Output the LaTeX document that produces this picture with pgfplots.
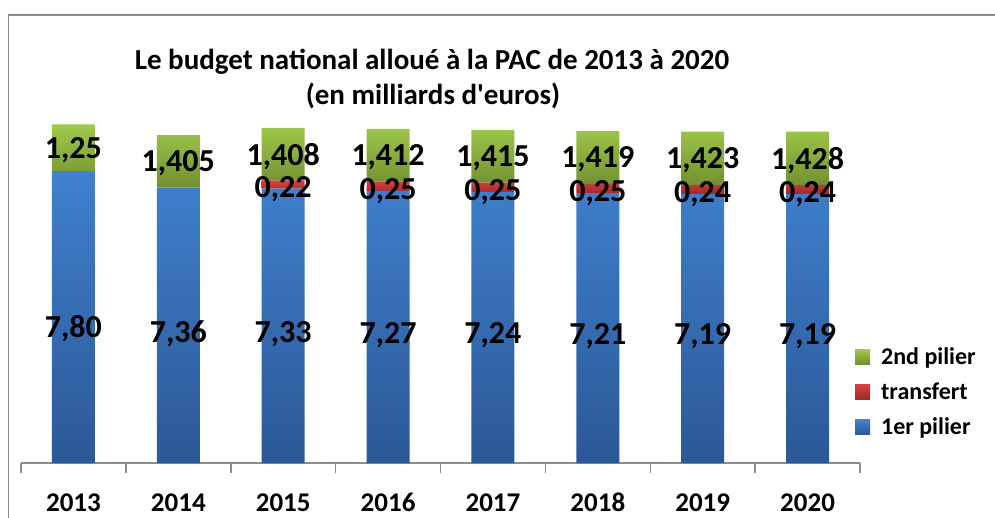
\documentclass[border=0pt]{standalone}
\usepackage{fontspec}
\setmainfont{Carlito}[Ligatures=TeXOff]
\usepackage{pgfplots}
\pgfplotsset{compat=1.18}
\definecolor{bluetop}{RGB}{64,128,206}
\definecolor{bluebot}{RGB}{43,88,150}
\definecolor{redtop}{RGB}{212,66,62}
\definecolor{redbot}{RGB}{158,40,40}
\definecolor{greentop}{RGB}{160,202,76}
\definecolor{greenbot}{RGB}{112,142,48}
\definecolor{framegray}{RGB}{140,140,140}
\begin{document}
\begin{tikzpicture}
\useasboundingbox (0pt,0pt) rectangle (995pt,-518pt);
\begin{scope}
\clip (0pt,0pt) rectangle (995pt,-518pt);
\draw[framegray, line width=1.5pt] (8.5pt,-560pt) -- (8.5pt,-15pt) -- (1050pt,-15pt);
\end{scope}
\node[anchor=base, font=\bfseries\fontsize{29}{29}\selectfont] at (432pt,-70pt) {Le budget national alloué à la PAC de 2013 à 2020};
\node[anchor=base, font=\bfseries\fontsize{29}{29}\selectfont] at (433pt,-105pt) {(en milliards d'euros)};
\begin{axis}[
 at={(21pt,-463pt)}, anchor=south west,
 scale only axis, width=839pt, height=348pt,
 ymin=0, ymax=9.3, xmin=-0.5, xmax=7.5,
 ybar stacked, bar width=0.41,
 axis y line=none, axis x line*=bottom,
 x axis line style={-, framegray, line width=1.5pt},
 xtick={0,...,7}, xticklabels={2013,2014,2015,2016,2017,2018,2019,2020},
 xtick style={draw=none},
 major tick length=0pt,
 extra x ticks={-0.5,0.5,...,7.5}, extra x tick labels={},
 extra x tick style={major tick length=10pt, tick align=outside, xtick style={draw=framegray, line width=1.5pt}},
 xticklabel style={font=\bfseries\fontsize{27}{27}\selectfont, text height=17pt, text depth=0pt, inner sep=0pt, anchor=north, yshift=-31pt},
 legend style={at={(axis description cs:0.994,0.338)}, anchor=north west, draw=none, fill=none,
   font=\bfseries\fontsize{24}{24}\selectfont, row sep=13pt, inner sep=0pt,
   /tikz/every odd column/.append style={column sep=9pt}},
 legend cell align=left,
 legend image code/.code={\path[#1, draw=none] (0pt,-7.5pt) rectangle (15pt,7.5pt);},
 reverse legend,
 clip=false,
]
\addplot[draw=none, top color=bluetop, bottom color=bluebot] coordinates {(0,7.80) (1,7.36) (2,7.33) (3,7.27) (4,7.24) (5,7.21) (6,7.19) (7,7.19)};
\addlegendentry{1er pilier}
\addplot[draw=none, top color=redtop, bottom color=redbot] coordinates {(0,0) (1,0) (2,0.22) (3,0.25) (4,0.25) (5,0.25) (6,0.24) (7,0.24)};
\addlegendentry{transfert}
\addplot[draw=none, top color=greentop, bottom color=greenbot] coordinates {(0,1.25) (1,1.405) (2,1.408) (3,1.412) (4,1.415) (5,1.419) (6,1.423) (7,1.428)};
\addlegendentry{2nd pilier}
\end{axis}
\begin{axis}[
 at={(21pt,-463pt)}, anchor=south west,
 scale only axis, width=839pt, height=348pt,
 ymin=0, ymax=9.3, xmin=-0.5, xmax=7.5,
 hide axis, clip=false,
 point meta=explicit symbolic,
 nodes near coords,
 every node near coord/.style={anchor=center, font=\bfseries\fontsize{32}{32}\selectfont, inner sep=0pt},
]
\addplot[draw=none, mark=none, every node near coord/.append style={yshift=-8pt}] coordinates {(0,3.80)[7,80] (1,3.68)[7,36] (2,3.665)[7,33] (3,3.635)[7,27] (4,3.62)[7,24] (5,3.605)[7,21] (6,3.595)[7,19] (7,3.595)[7,19]};
\addplot[draw=none, mark=none, every node near coord/.append style={yshift=-5pt}] coordinates {(2,7.44)[0,22] (3,7.395)[0,25] (4,7.365)[0,25] (5,7.335)[0,25] (6,7.31)[0,24] (7,7.31)[0,24]};
\addplot[draw=none, mark=none, every node near coord/.append style={yshift=-2pt}] coordinates {(0,8.425)[1,25] (1,8.0625)[1,405] (2,8.254)[1,408] (3,8.226)[1,412] (4,8.1975)[1,415] (5,8.1695)[1,419] (6,8.1415)[1,423] (7,8.144)[1,428]};
\end{axis}
\end{tikzpicture}
\end{document}
